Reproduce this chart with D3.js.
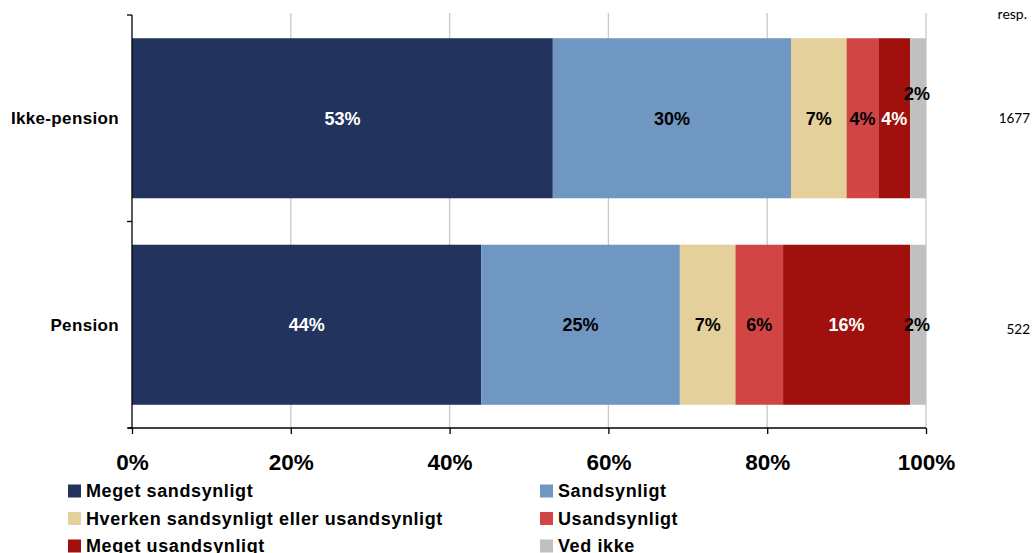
<!DOCTYPE html>
<html><head><meta charset="utf-8">
<script src="https://cdn.jsdelivr.net/npm/d3@7"></script>
<style>body{margin:0;background:#fff;} svg{display:block;font-family:Arial,"Liberation Sans",sans-serif;}</style>
</head><body>
<svg id="c" width="1033" height="553"></svg>
<script>
const categories = ["Ikke-pension", "Pension"];
const respondents = ["1677", "522"];
const seriesNames = ["Meget sandsynligt", "Sandsynligt", "Hverken sandsynligt eller usandsynligt", "Usandsynligt", "Meget usandsynligt", "Ved ikke"];
const seriesColors = ["#22335e", "#6f97c1", "#e4d09b", "#d24545", "#a0100c", "#c0c0c0"];
const labelColors = ["#fff", "#000", "#000", "#000", "#fff", "#000"];
const meget_sandsynligt = [53, 44];
const sandsynligt = [30, 25];
const hverken = [7, 7];
const usandsynligt = [4, 6];
const meget_usandsynligt = [4, 16];
const ved_ikke = [2, 2];
const xTicks = [0, 20, 40, 60, 80, 100];

const values = [meget_sandsynligt, sandsynligt, hverken, usandsynligt, meget_usandsynligt, ved_ikke];
const svg = d3.select("#c");
const x = d3.scaleLinear().domain([0, 100]).range([132, 926]);
const y = d3.scaleBand().domain(categories).range([15, 428]).paddingInner(0.225).paddingOuter(0.1125);

// gridlines
svg.append("g").selectAll("line").data(xTicks.slice(1)).join("line")
  .attr("x1", d => x(d)).attr("x2", d => x(d)).attr("y1", 13).attr("y2", 428)
  .attr("stroke", "#c8c8c8").attr("stroke-width", 1.3);

// stacked data
const rows = categories.map((c, i) => {
  let acc = 0;
  return values.map((s, k) => { const v = s[i]; const r = {cat: c, k, v, x0: acc, x1: acc + v}; acc += v; return r; });
});
const flat = rows.flat();

svg.append("g").selectAll("rect").data(flat).join("rect")
  .attr("x", d => x(d.x0)).attr("width", d => x(d.x1) - x(d.x0))
  .attr("y", d => y(d.cat)).attr("height", y.bandwidth())
  .attr("fill", d => seriesColors[d.k]);

// labels
svg.append("g").selectAll("text").data(flat).join("text")
  .attr("x", d => d.k === 5 ? x(d.x0 + d.v / 2) - 1 : x(d.x0 + d.v / 2))
  .attr("y", d => {
    const c = y(d.cat) + y.bandwidth() / 2;
    if (d.k === 5 && d.cat === "Ikke-pension") return c - 25;
    return c;
  })
  .attr("dy", "0.35em")
  .attr("text-anchor", "middle")
  .attr("font-weight", "bold").attr("font-size", 18)
  .attr("fill", d => labelColors[d.k])
  .text(d => d.v + "%");

// y axis
const yAxisG = svg.append("g");
yAxisG.append("line").attr("x1", 132).attr("x2", 132).attr("y1", 15).attr("y2", 428).attr("stroke", "#000").attr("stroke-width", 1.3);
yAxisG.selectAll("line.t").data([15, 221.5, 428]).join("line").attr("class", "t")
  .attr("x1", 127).attr("x2", 132).attr("y1", d => d).attr("y2", d => d).attr("stroke", "#000").attr("stroke-width", 1.3);
svg.append("g").selectAll("text").data(categories).join("text")
  .attr("x", 119).attr("y", d => y(d) + y.bandwidth() / 2).attr("dy", "0.35em")
  .attr("text-anchor", "end").attr("font-weight", "bold").attr("font-size", 17).attr("letter-spacing", 0.35).attr("fill", "#000")
  .text(d => d);

// x axis
const xAxis = d3.axisBottom(x).tickValues(xTicks).tickFormat(d => d + "%").tickSize(6).tickPadding(20);
const xg = svg.append("g").attr("transform", "translate(0,428)").call(xAxis);
xg.select(".domain").remove();
xg.append("line").attr("x1", 128).attr("x2", 926).attr("stroke", "#000").attr("stroke-width", 1.3);
xg.selectAll(".tick line").attr("stroke", "#000").attr("stroke-width", 1.3);
xg.selectAll(".tick text").attr("font-family", "Arial, 'Liberation Sans', sans-serif").attr("font-size", 22.5).attr("font-weight", "bold").attr("fill", "#000");

// respondents
svg.append("text").attr("x", 1027).attr("y", 19).attr("text-anchor", "end")
  .attr("font-family", "Lato, 'DejaVu Sans', sans-serif").attr("font-size", 14).attr("fill", "#000").text("resp.");
svg.append("g").selectAll("text").data(categories).join("text")
  .attr("x", 1030).attr("y", (d, i) => y(d) + y.bandwidth() / 2 + (i === 0 ? 0 : 5)).attr("dy", "0.35em")
  .attr("text-anchor", "end").attr("font-family", "Lato, 'DejaVu Sans', sans-serif").attr("font-size", 13.5).attr("fill", "#000")
  .text((d, i) => respondents[i]);

// legend
const leg = svg.append("g").selectAll("g").data(seriesNames).join("g")
  .attr("transform", (d, i) => `translate(${i % 2 === 0 ? 68 : 540},${484.5 + Math.floor(i / 2) * 27.5})`);
leg.append("rect").attr("width", 13).attr("height", 13).attr("fill", (d, i) => seriesColors[i]);
leg.append("text").attr("x", 18).attr("y", 6.5).attr("dy", "0.36em")
  .attr("font-weight", "bold").attr("font-size", 18).attr("letter-spacing", 0.6).attr("fill", "#000").text(d => d);
</script>
</body></html>
